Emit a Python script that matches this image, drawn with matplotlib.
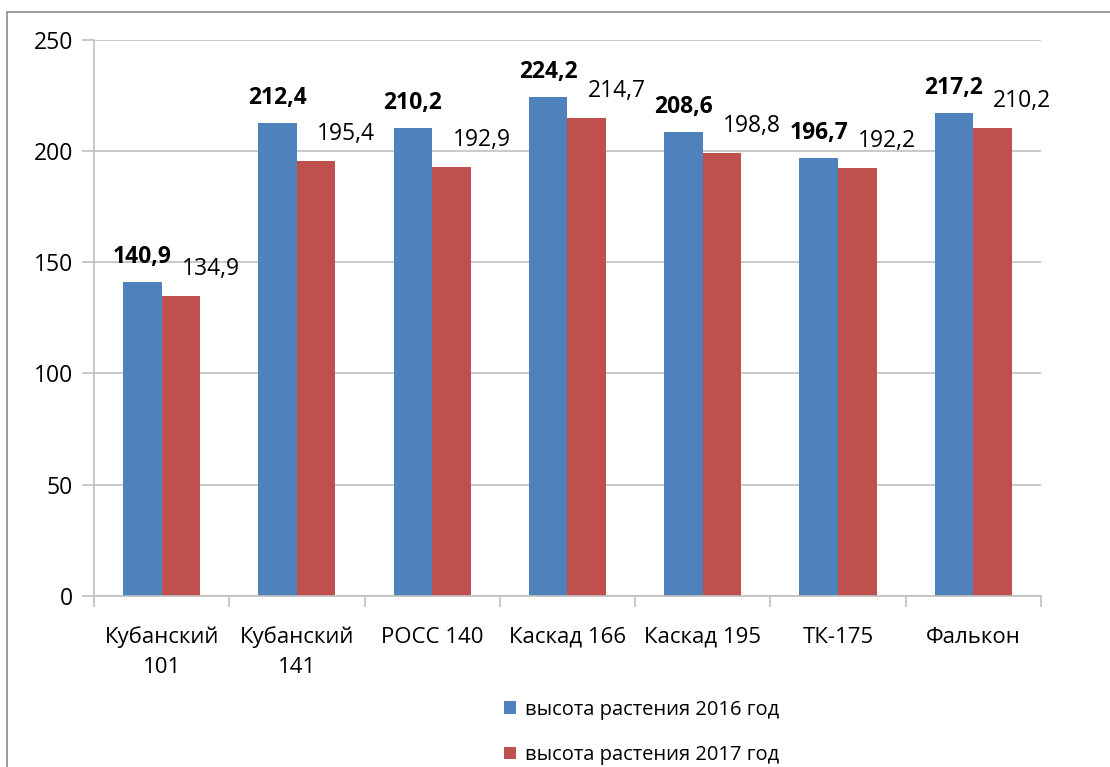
import numpy as np
import matplotlib.pyplot as plt
from matplotlib.patches import Rectangle

# --- Data ---
varieties = ["Кубанский\n101", "Кубанский\n141", "РОСС 140", "Каскад 166",
             "Каскад 195", "ТК-175", "Фалькон"]
height_2016 = [140.9, 212.4, 210.2, 224.2, 208.6, 196.7, 217.2]
height_2017 = [134.9, 195.4, 192.9, 214.7, 198.8, 192.2, 210.2]
label_2016 = "высота растения 2016 год"
label_2017 = "высота растения 2017 год"

blue = "#4f81bd"
red = "#c0504d"
grid_col = "#c0c0c0"

plt.rcParams["font.family"] = ["Open Sans", "DejaVu Sans"]

fig = plt.figure(figsize=(11.1, 7.67), dpi=100)
ax = fig.add_axes([0.0847, 0.2229, 0.853, 0.7256])

x = np.arange(len(varieties))
w = 0.285
b1 = ax.bar(x - w / 2, height_2016, w, color=blue, label=label_2016)
b2 = ax.bar(x + w / 2, height_2017, w, color=red, label=label_2017)

# --- Value labels ---
for xi, v in zip(x, height_2016):
    ax.annotate(f"{v:.1f}".replace(".", ","), (xi - w / 2, v),
                xytext=(0, 25), textcoords="offset pixels",
                ha="center", va="center", fontsize=16.5, fontweight="bold")
for xi, v in zip(x, height_2017):
    ax.annotate(f"{v:.1f}".replace(".", ","), (xi + w / 2, v),
                xytext=(30, 27), textcoords="offset pixels",
                ha="center", va="center", fontsize=16.5)

# --- Axes formatting ---
ax.set_xlim(-0.5, len(varieties) - 0.5)
ax.set_ylim(0, 250)
ax.set_yticks(range(0, 251, 50))
ax.yaxis.grid(True, color=grid_col, linewidth=1.2)
ax.set_axisbelow(True)
for s in ["top", "right"]:
    ax.spines[s].set_visible(False)
for s in ["left", "bottom"]:
    ax.spines[s].set_color(grid_col)
    ax.spines[s].set_linewidth(1.2)

ax.set_xticks(x)
ax.set_xticklabels(varieties, fontsize=16, linespacing=1.55)
ax.set_xticks(np.arange(-0.5, len(varieties), 1), minor=True)
ax.tick_params(axis="x", which="major", length=0, pad=22)
ax.tick_params(axis="x", which="minor", length=8, color=grid_col, width=1.2)
ax.tick_params(axis="y", length=9, color=grid_col, width=1.2, labelsize=16.5, pad=6)

# --- Legend ---
fig.legend(handles=[b1, b2], loc="upper left", bbox_to_anchor=(0.447, 0.098),
           frameon=False, fontsize=14.5, handlelength=0.6, handleheight=0.6,
           handletextpad=0.45, labelspacing=1.25, borderaxespad=0)

# --- Outer border ---
fig.patches.append(Rectangle((7 / 1110, -0.1), 1.2, (767 - 12) / 767 + 0.1,
                             transform=fig.transFigure, fill=False,
                             edgecolor="#8c8c8c", linewidth=1.2))

plt.savefig("out.png", dpi=100)
